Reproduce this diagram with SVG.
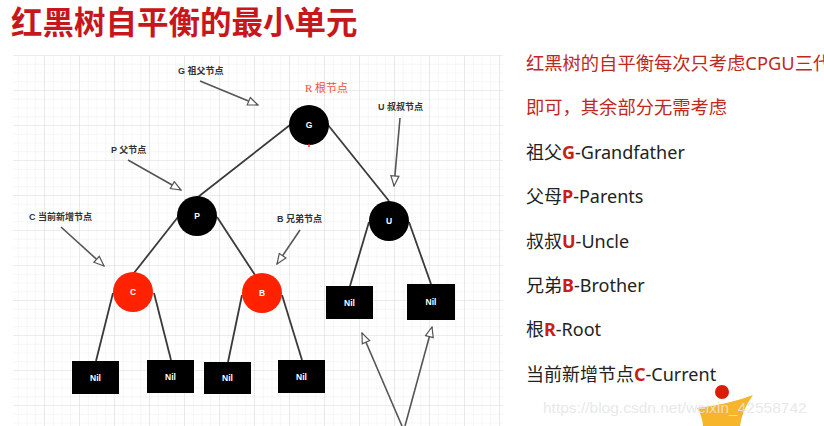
<svg xmlns="http://www.w3.org/2000/svg" width="824" height="426" viewBox="0 0 824 426">
<defs>
<pattern id="minor" x="10" y="56" width="8.75" height="8.75" patternUnits="userSpaceOnUse">
<path d="M8.75 0V8.75H0" fill="none" stroke="#eeeeee" stroke-width="1"/>
</pattern>
<pattern id="major" x="10" y="56" width="35" height="35" patternUnits="userSpaceOnUse">
<path d="M35 0V35H0" fill="none" stroke="#e2e2e2" stroke-width="1.2"/>
</pattern>
<marker id="hollow" viewBox="0 0 12 10" refX="11" refY="5" markerWidth="12" markerHeight="10" markerUnits="userSpaceOnUse" orient="auto">
<path d="M1 1L11 5L1 9Z" fill="#fff" stroke="#555" stroke-width="1.2"/>
</marker>
</defs>
<style>
.edge{stroke:#3a3a3a;stroke-width:1.8;fill:none}
.ann{stroke:#555;stroke-width:1.6;fill:none;marker-end:url(#hollow)}
.blk{fill:#000}
.red{fill:#ff2200}
.nt{font-family:"Liberation Sans",Arial,sans-serif;font-size:8.5px;font-weight:bold;fill:#fff;text-anchor:middle}
.lbl{font-family:"Liberation Sans","Noto Sans CJK SC",sans-serif;font-size:9px;font-weight:bold;fill:#333}
.rt{font-family:"Noto Sans","Noto Sans CJK SC",sans-serif;font-size:18.3px;fill:#c0281c}
.bt{font-family:"Noto Sans","Noto Sans CJK SC",sans-serif;font-size:18px;fill:#222}
.k{fill:#c81e14;font-weight:bold}
</style>
<rect width="824" height="426" fill="#fff"/>
<rect x="13" y="55" width="490" height="371" fill="url(#minor)"/>
<rect x="13" y="55" width="490" height="371" fill="url(#major)"/>

<text x="11" y="34" font-family="'Noto Sans CJK SC',sans-serif" font-size="31.5" font-weight="bold" fill="#c8161d">红黑树自平衡的最小单元</text>

<g id="connectors">
<line class="edge" x1="290" y1="125" x2="198" y2="197"/>
<line class="edge" x1="328" y1="125" x2="389" y2="201"/>
<line class="edge" x1="178" y1="217" x2="134" y2="273"/>
<line class="edge" x1="217" y1="217" x2="255" y2="275"/>
<line class="edge" x1="369" y1="222" x2="350" y2="286"/>
<line class="edge" x1="409" y1="222" x2="431" y2="284"/>
<line class="edge" x1="113" y1="293" x2="96" y2="361"/>
<line class="edge" x1="154" y1="293" x2="171" y2="360"/>
<line class="edge" x1="242" y1="295" x2="228" y2="362"/>
<line class="edge" x1="282" y1="295" x2="302" y2="360"/>
<line class="ann" x1="200" y1="81" x2="258" y2="105"/>
<line class="ann" x1="400" y1="118" x2="394" y2="186"/>
<line class="ann" x1="128" y1="160" x2="181" y2="190"/>
<line class="ann" x1="61" y1="227" x2="104" y2="266"/>
<line class="ann" x1="300" y1="230" x2="277" y2="264"/>
<line class="ann" x1="402" y1="426" x2="362" y2="333"/>
<line class="ann" x1="405" y1="426" x2="432" y2="327"/>
</g>

<g id="lbl-g"><text class="lbl" x="178" y="74">G 祖父节点</text></g>
<g id="lbl-r"><text x="305" y="92" font-family="'Liberation Serif','Noto Sans CJK SC',serif" font-size="11" fill="#f0503c">R 根节点</text></g>
<g id="lbl-u"><text class="lbl" x="378" y="110">U 叔叔节点</text></g>
<g id="lbl-p"><text class="lbl" x="111" y="153">P 父节点</text></g>
<g id="lbl-c"><text class="lbl" x="29" y="220">C 当前新增节点</text></g>
<g id="lbl-b"><text class="lbl" x="277" y="222">B 兄弟节点</text></g>

<g id="node-g"><circle class="blk" cx="309" cy="125" r="20"/><text class="nt" x="309" y="128">G</text><line x1="309" y1="144" x2="309" y2="147" stroke="#f22" stroke-width="1.5"/></g>
<g id="node-p"><circle class="blk" cx="197" cy="216" r="20"/><text class="nt" x="197" y="219">P</text></g>
<g id="node-u"><circle class="blk" cx="389" cy="221" r="20"/><text class="nt" x="389" y="224">U</text></g>
<g id="node-c"><circle class="red" cx="133" cy="292" r="20"/><text class="nt" x="133" y="295">C</text></g>
<g id="node-b"><circle class="red" cx="262" cy="293" r="20"/><text class="nt" x="262" y="296">B</text></g>

<g id="nil-c1"><rect class="blk" x="72" y="361" width="47" height="33"/><text class="nt" x="95.5" y="381">Nil</text></g>
<g id="nil-c2"><rect class="blk" x="147" y="360" width="47" height="33"/><text class="nt" x="170.5" y="380">Nil</text></g>
<g id="nil-b1"><rect class="blk" x="204" y="362" width="47" height="32"/><text class="nt" x="227.5" y="381">Nil</text></g>
<g id="nil-b2"><rect class="blk" x="278" y="360" width="47" height="33"/><text class="nt" x="301.5" y="380">Nil</text></g>
<g id="nil-u1"><rect class="blk" x="326" y="286" width="47" height="33"/><text class="nt" x="349.5" y="306">Nil</text></g>
<g id="nil-u2"><rect class="blk" x="407" y="284" width="48" height="36"/><text class="nt" x="431" y="305">Nil</text></g>

<g id="notes">
<text class="rt" x="526" y="70">红黑树的自平衡每次只考虑CPGU三代</text>
<text class="rt" x="526" y="114">即可，其余部分无需考虑</text>
<text class="bt" x="526" y="159">祖父<tspan class="k">G</tspan>-Grandfather</text>
<text class="bt" x="526" y="203">父母<tspan class="k">P</tspan>-Parents</text>
<text class="bt" x="526" y="248">叔叔<tspan class="k">U</tspan>-Uncle</text>
<text class="bt" x="526" y="292">兄弟<tspan class="k">B</tspan>-Brother</text>
<text class="bt" x="526" y="336">根<tspan class="k">R</tspan>-Root</text>
<text class="bt" x="526" y="381">当前新增节点<tspan class="k">C</tspan>-Current</text>
</g>

<g id="watermark">
<path d="M697 408Q730 404 753 395Q742 410 740 426H703Q702 415 697 408Z" fill="#f7b52c"/>
<circle cx="722" cy="392" r="7" fill="#d81e06"/>
<text x="543" y="413" font-family="'Liberation Sans',Arial,sans-serif" font-size="15.5" fill="#e4e4e4" fill-opacity="0.85">https://blog.csdn.net/weixin_42558742</text>
</g>
</svg>
